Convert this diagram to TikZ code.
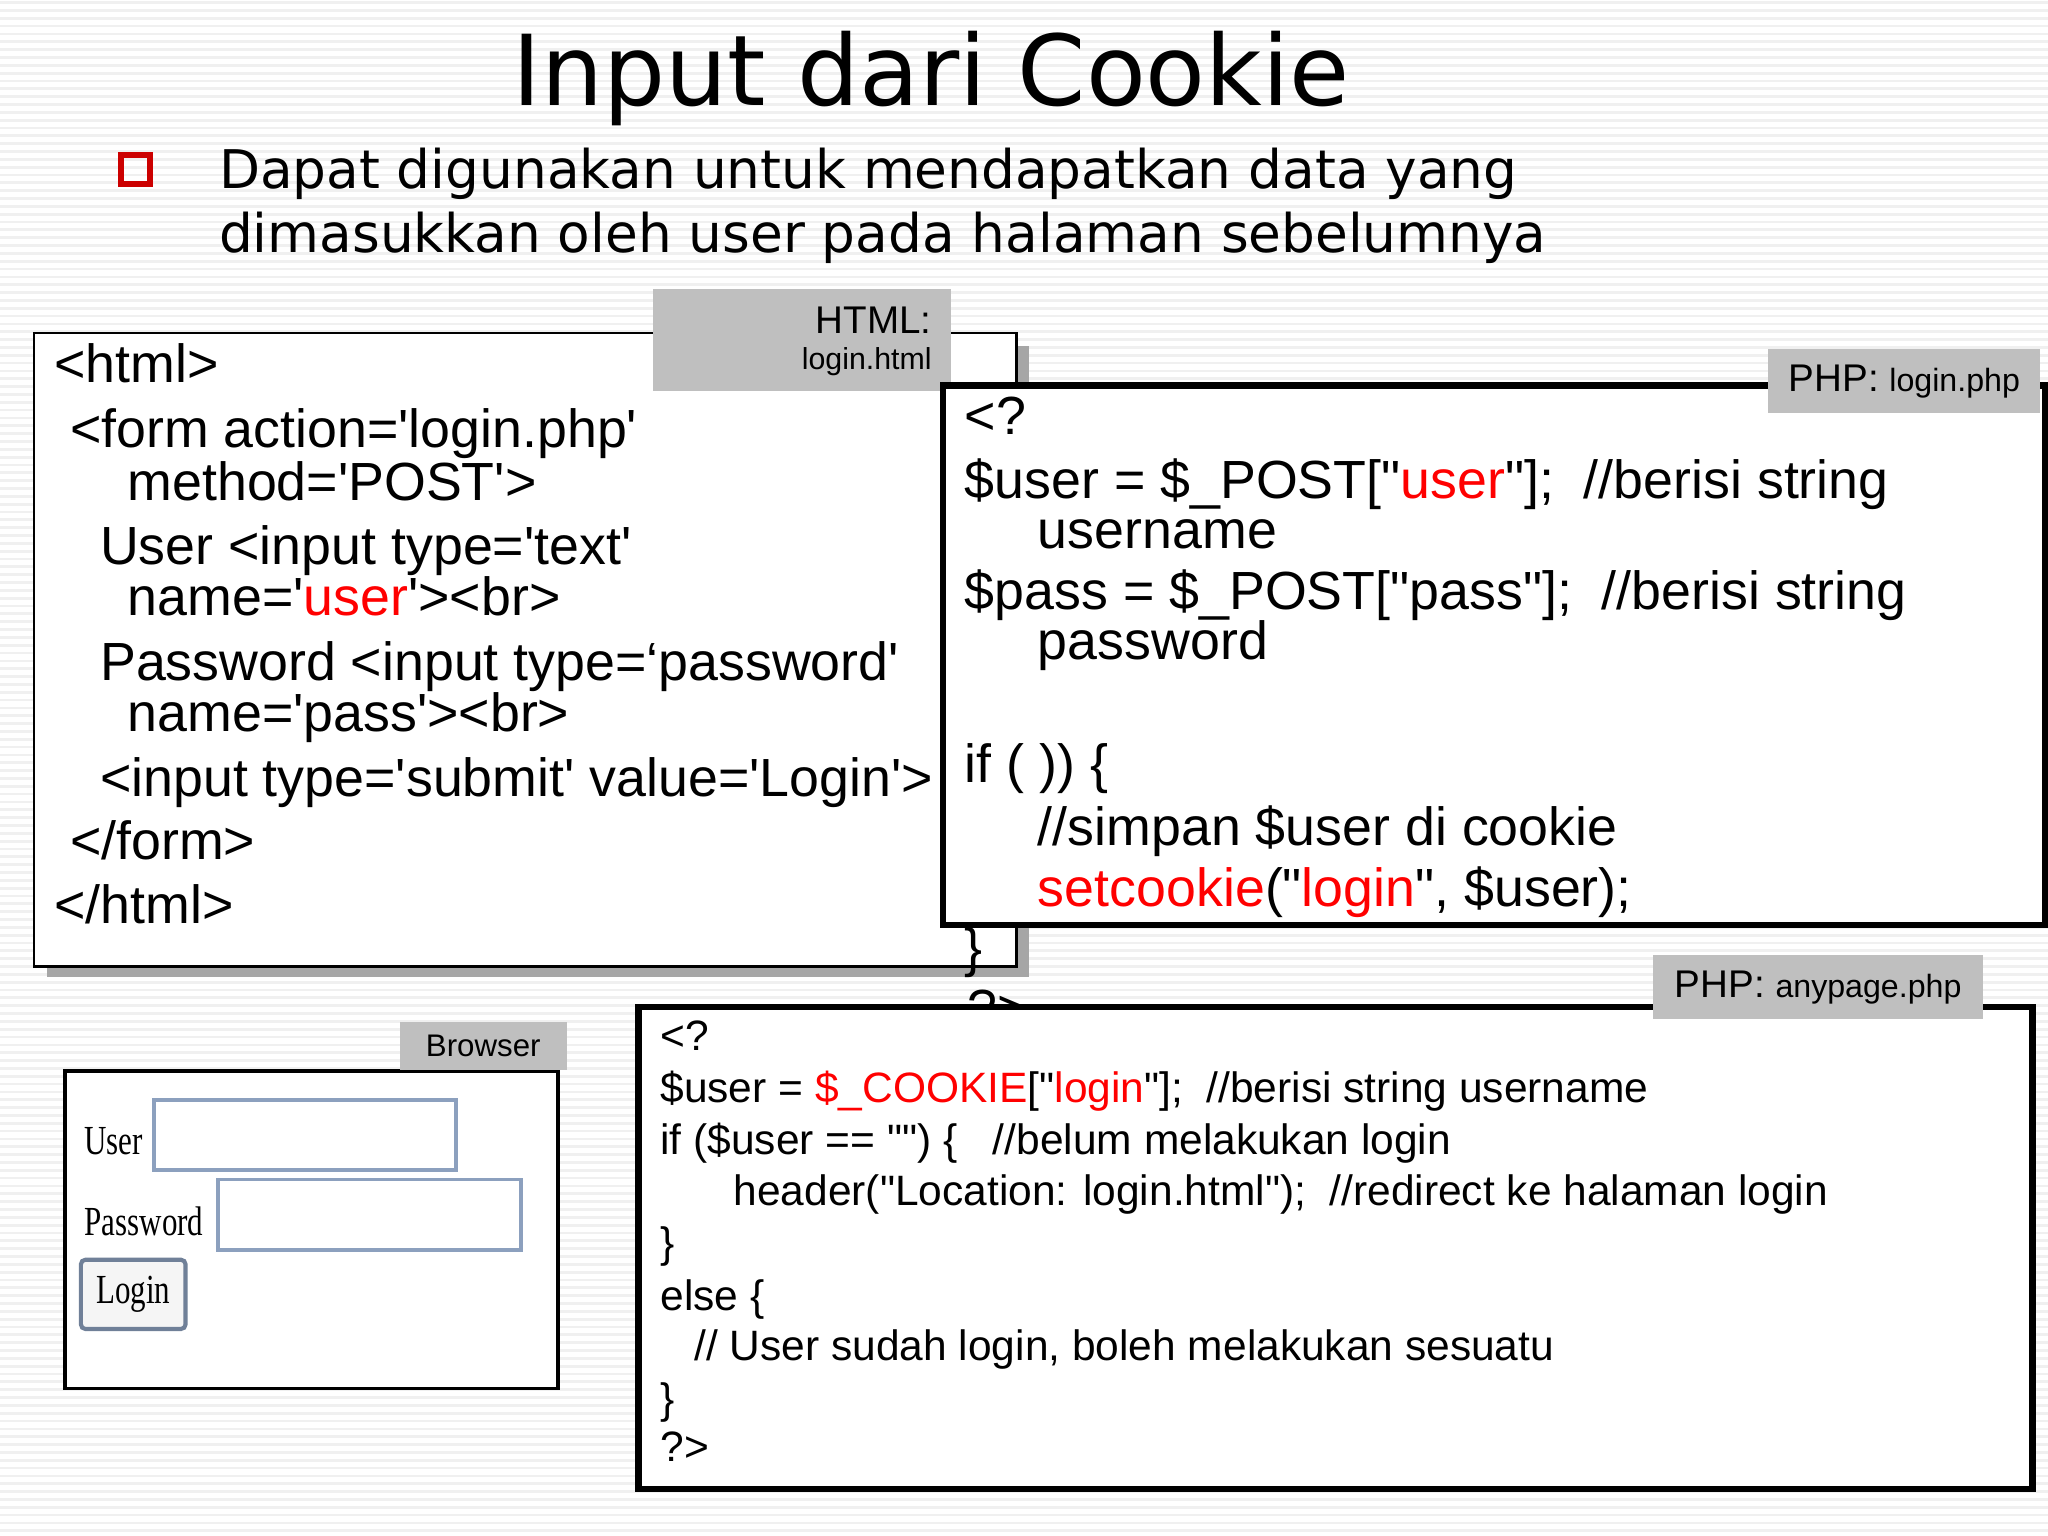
\documentclass[tikz,border=0pt]{standalone}
\usepackage{fontspec}
\setmainfont{DejaVu Sans}
\newfontfamily\codefont{Liberation Sans}
\newfontfamily\formfont{Liberation Serif}
\usetikzlibrary{positioning}
\definecolor{fieldblue}{RGB}{140,160,190}

\begin{document}
\begin{tikzpicture}[x=0.01cm, y=-0.01cm]
    \tikzset{code/.style={anchor=base west, inner sep=0pt, font=\codefont\fontsize{11.7}{14}\selectfont},
             small code/.style={code, font=\codefont\fontsize{9.25}{11}\selectfont},
             tag/.style={fill=gray!50, draw=none, inner sep=0pt},
             codebox/.style={draw=black, line width=1.4pt, fill=white},
             formtext/.style={anchor=west, inner sep=0pt, font=\formfont\fontsize{9}{10}\selectfont}}
    \useasboundingbox (0,0) rectangle (1568,1176);
    % striped background
    \fill[white] (0,0) rectangle (1568,1176);
    \foreach \y in {2,8,...,1176}
        \draw[gray!12, line width=0.6pt] (0,\y) -- (1568,\y);

    % title and bullet
    \node[font=\fontsize{21.3}{25}\selectfont] (title) at (713,60) {Input dari Cookie};
    \node[draw=red!80!black, line width=1.3pt, minimum size=0.22cm, inner sep=0pt] (bullet) at (104,130) {};
    \node[anchor=north west, inner sep=0pt, align=left, font=\fontsize{11.6}{13.9}\selectfont] (intro) at (167,113)
        {Dapat digunakan untuk mendapatkan data yang\\dimasukkan oleh user pada halaman sebelumnya};

    % HTML box
    \fill[gray!70] (36,265) rectangle (788,748);
    \draw[fill=white, line width=0.6pt] (26,255) rectangle (778,740);
    \node[tag, minimum width=2.28cm, minimum height=0.78cm] (htmltag) at (614,260) {};
    \node[anchor=north east, align=right, inner sep=0pt, font=\codefont\fontsize{8.4}{10}\selectfont] (htmllbl) at (714,234)
        {HTML:\\[-2pt]{\fontsize{6.6}{8}\selectfont login.html}};
    \foreach \i/\x/\y/\t in {1/41/293/{<html>}, 2/53/343/{<form action='login.php'}, 3/97/383/{method='POST'>},
            4/76/432/{User <input type='text'}, 5/97/471/{name='{\color{red}user}'><br>},
            6/76/521/{Password <input type=‘password'}, 7/97/560/{name='pass'><br>},
            8/76/610/{<input type='submit' value='Login'>}, 9/53/658/{</form>}, 10/41/707/{</html>}}
        \node[code] (h\i) at (\x,\y) {\t};

    % PHP login box
    \draw[codebox] (722,295) rectangle (1566,708);
    \node[tag, minimum width=2.08cm, minimum height=0.49cm] (logintag) at (1458,292)
        {\codefont\fontsize{8.4}{10}\selectfont PHP: {\fontsize{7}{8}\selectfont login.php}};
    \foreach \i/\x/\y/\t in {1/738/333/{<?}, 2/738/382/{\$user = \$\_POST["{\color{red}user}"];\ \ //berisi string},
            3/794/420/{username}, 4/738/467/{\$pass = \$\_POST["pass"];\ \ //berisi string}, 5/794/505/{password},
            6/738/599/{if ( )) \{}, 7/794/647/{//simpan \$user di cookie},
            8/794/694/{{\color{red}setcookie}("{\color{red}login}", \$user);}, 9/738/740/{\}}, 10/740/787/{?>}}
        \node[code] (p\i) at (\x,\y) {\t};

    % browser
    \draw[fill=white, line width=0.8pt] (50,820) rectangle (427,1063);
    \node[tag, minimum width=1.28cm, minimum height=0.37cm] (browsertag) at (370,801)
        {\codefont\fontsize{6.8}{8}\selectfont\raisebox{-3pt}{Browser}};
    \node[formtext] (userlbl) at (64,874) {\scalebox{0.75}[1]{User}};
    \node[formtext] (passlbl) at (64,935) {\scalebox{0.75}[1]{Password}};
    \draw[fieldblue, line width=0.8pt] (118,842) rectangle (349,896);
    \draw[fieldblue, line width=0.8pt] (167,903) rectangle (399,957);
    \node[draw=fieldblue!80!black, fill=gray!8, rounded corners=1pt, line width=0.9pt, minimum width=0.73cm, minimum height=0.53cm,
        font=\formfont\fontsize{9}{10}\selectfont] (loginbtn) at (102,991) {\scalebox{0.75}[1]{Login}};

    % PHP anypage box
    \draw[codebox] (489,771) rectangle (1556,1140);
    \node[tag, minimum width=2.53cm, minimum height=0.49cm] (anytag) at (1392,756)
        {\codefont\fontsize{8.4}{10}\selectfont PHP: {\fontsize{7}{8}\selectfont anypage.php}};
    \foreach \i/\x/\y/\t in {1/505/804/{<?}, 2/505/844/{\$user = {\color{red}\$\_COOKIE}["{\color{red}login}"];\ \ //berisi string username},
            3/505/884/{if (\$user == "") \{\ \ \ //belum melakukan login},
            4/561/923/{header("Location: login.html");\ \ //redirect ke halaman login},
            5/505/963/{\}}, 6/505/1003/{else \{}, 7/531/1042/{// User sudah login, boleh melakukan sesuatu},
            8/505/1082/{\}}, 9/505/1119/{?>}}
        \node[small code] (a\i) at (\x,\y) {\t};
\end{tikzpicture}
\end{document}
